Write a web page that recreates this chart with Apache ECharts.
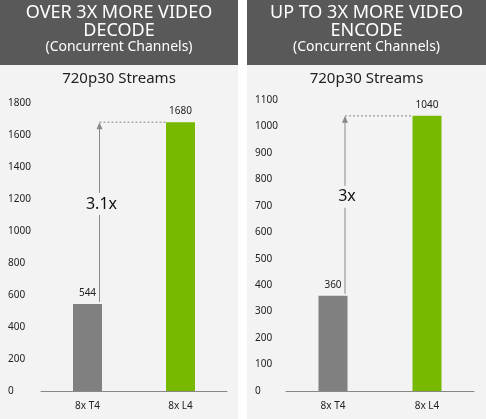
<!DOCTYPE html>
<html><head><meta charset="utf-8">
<script src="https://cdn.jsdelivr.net/npm/echarts@6/dist/echarts.min.js"></script>
<style>html,body{margin:0;background:#fff}#c{width:486px;height:419px}</style>
</head><body><div id="c"></div>
<script>
var categories = ['8x T4', '8x L4'];
var decodeValues = [544, 1680];
var encodeValues = [360, 1040];
var decodeTicks = { max: 1800, interval: 200 };
var encodeTicks = { max: 1100, interval: 100 };
var panelTitles = ['OVER 3X MORE VIDEO\nDECODE', 'UP TO 3X MORE VIDEO\nENCODE'];
var ratioLabels = ['3.1x', '3x'];

var chart = echarts.init(document.getElementById('c'));
var font = 'Noto Sans';
var panels = [{ x: 0, w: 238 }, { x: 247, w: 239 }];

function bg() {
	var g = [];
	panels.forEach(function (p, i) {
		g.push({ type: 'rect', shape: { x: p.x, y: 65, width: p.w, height: 354 }, style: { fill: '#f3f3f3' }, z: -10 });
		g.push({ type: 'rect', shape: { x: p.x, y: 0, width: p.w, height: 65 }, style: { fill: '#595959' }, z: -10 });
		g.push({ type: 'text', x: p.x + p.w / 2, y: 4, style: { text: panelTitles[i], fill: '#fff', font: '18px ' + font, align: 'center', lineHeight: 18 } });
		g.push({ type: 'text', x: p.x + p.w / 2, y: 40, style: { text: '(Concurrent Channels)', fill: '#fff', font: '14px ' + font, align: 'center' } });
		g.push({ type: 'text', x: p.x + p.w / 2, y: 71, style: { text: '720p30 Streams', fill: '#222', font: '15px ' + font, align: 'center' } });
	});
	return g;
}

function yAxis(idx, t, margin) {
	return {
		gridIndex: idx, type: 'value', min: 0, max: t.max, interval: t.interval,
		splitLine: { show: false }, axisLine: { show: false }, axisTick: { show: false },
		axisLabel: { color: '#222', fontSize: 10, fontFamily: font, align: 'left', margin: margin, formatter: function (v) { return String(v); } }
	};
}
function xAxis(idx) {
	return {
		gridIndex: idx, type: 'category', data: categories,
		axisLine: { lineStyle: { color: '#888' } }, axisTick: { show: false },
		axisLabel: { color: '#222', fontSize: 10, fontFamily: font, margin: 10 }
	};
}
function bars(idx, vals) {
	return {
		type: 'bar', xAxisIndex: idx, yAxisIndex: idx, barWidth: 29,
		data: vals.map(function (v, i) { return { value: v, itemStyle: { color: i ? '#76b900' : '#808080' } }; }),
		label: { show: true, position: 'top', color: '#222', fontSize: 10, fontFamily: font, distance: 6 }
	};
}

chart.setOption({
	animation: false,
	grid: [
		{ left: 41, width: 186, top: 103, bottom: 28 },
		{ left: 286, width: 188, top: 100, bottom: 28 }
	],
	xAxis: [xAxis(0), xAxis(1)],
	yAxis: [yAxis(0, decodeTicks, 33), yAxis(1, encodeTicks, 31)],
	series: [bars(0, decodeValues), bars(1, encodeValues)],
	graphic: bg()
});

// arrows from the T4 bar up to the L4 level
var extra = bg();
[decodeValues, encodeValues].forEach(function (vals, i) {
	var a = chart.convertToPixel({ gridIndex: i }, [0, vals[0]]);
	var b = chart.convertToPixel({ gridIndex: i }, [1, vals[1]]);
	var x = a[0] + 12;
	extra.push({ type: 'line', shape: { x1: x, y1: a[1] - 2, x2: x, y2: b[1] + 6 }, style: { stroke: '#888', lineWidth: 1 } });
	extra.push({ type: 'polygon', shape: { points: [[x - 3, b[1] + 7], [x + 3, b[1] + 7], [x, b[1]]] }, style: { fill: '#888' } });
	extra.push({ type: 'line', shape: { x1: x, y1: b[1], x2: b[0] - 14, y2: b[1] }, style: { stroke: '#888', lineWidth: 1, lineDash: [2, 2] } });
	extra.push({ type: 'text', x: x + 2, y: a[1] - (a[1] - b[1]) * 0.55, style: { text: ratioLabels[i], fill: '#111', font: '16px ' + font, align: 'center', verticalAlign: 'middle', backgroundColor: '#f3f3f3', padding: [3, 2] }, z: 10 });
});
chart.setOption({ graphic: extra }, { replaceMerge: ['graphic'] });
</script></body></html>
